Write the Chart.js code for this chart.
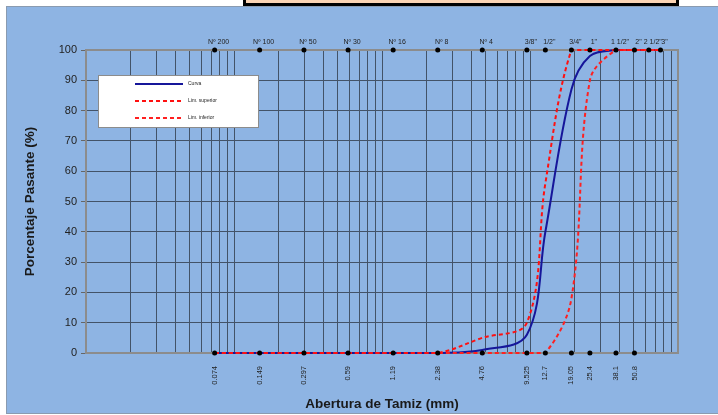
<!DOCTYPE html>
<html>
<head>
<meta charset="utf-8">
<script src="https://cdn.jsdelivr.net/npm/chart.js@4.4.1/dist/chart.umd.min.js"></script>
<style>
  html, body { margin: 0; padding: 0; background: #fff; }
  body { width: 718px; height: 415px; position: relative; overflow: hidden; }
  #frame { position: absolute; left: 6px; top: 6px; width: 711px; height: 406px; background: #8eb4e3; border: 1px solid #8a9bb0; }
  #titleBox { position: absolute; left: 243px; top: -20px; width: 430px; height: 20px; background: #fbd4b4; border: 3px solid #000; }
  canvas { position: absolute; left: 0; top: 0; }
</style>
</head>
<body>
<div id="frame"></div>
<div id="titleBox"></div>
<canvas id="granChart" width="718" height="415"></canvas>
<script>
// tamices (abertura en mm) y sus nombres
const sieveMm = [0.074, 0.149, 0.297, 0.59, 1.19, 2.38, 4.76, 9.525, 12.7, 19.05, 25.4, 38.1, 50.8, 63.5, 76.2];
const sieveNames = ["Nº 200", "Nº 100", "Nº 50", "Nº 30", "Nº 16", "Nº 8", "Nº 4", '3/8"', '1/2"', '3/4"', '1"', '1 1/2"', '2"', '2 1/2"', '3"'];
const mmLabels = ["0.074", "0.149", "0.297", "0.59", "1.19", "2.38", "4.76", "9.525", "12.7", "19.05", "25.4", "38.1", "50.8"];

// % pasante
const curva = [0, 0, 0, 0, 0, 0, 1, 6, 40, 87, 98, 100, 100, 100, 100];
const limSuperior = [0, 0, 0, 0, 0, 0, 5, 10, 56, 100, 100, 100, 100, 100, 100];
const limInferior = [0, 0, 0, 0, 0, 0, 0, 0, 0, 18, 90, 100, 100, 100, 100];

const yTicks = [0, 10, 20, 30, 40, 50, 60, 70, 80, 90, 100];

const FONT = "'Liberation Sans', Arial, sans-serif";
const GRID = "#435368";

function toPoints(values) {
  return values.map((v, i) => ({ x: sieveMm[i], y: v }));
}

// lineas de grilla logaritmica: 1..9 x 10^k
const gridValues = [];
for (let e = -2; e <= 1; e++) {
  for (let m = 1; m <= 9; m++) gridValues.push(+(m * Math.pow(10, e)).toPrecision(3));
}
gridValues.push(100);

const plotFrame = {
  id: "plotFrame",
  beforeDatasetsDraw(chart) {
    const { ctx, chartArea: a } = chart;
    ctx.save();
    ctx.strokeStyle = "#8c8c8c";
    ctx.lineWidth = 2;
    ctx.strokeRect(a.left, a.top, a.right - a.left, a.bottom - a.top);
    ctx.restore();
  },
  afterDraw(chart) {
    // leyenda dentro del area de trazado
    const ctx = chart.ctx;
    const box = { x: 98, y: 75, w: 160, h: 52 };
    ctx.save();
    ctx.fillStyle = "#fff";
    ctx.fillRect(box.x, box.y, box.w, box.h);
    ctx.strokeStyle = "#8c8c8c";
    ctx.lineWidth = 1;
    ctx.strokeRect(box.x + 0.5, box.y + 0.5, box.w, box.h);
    const items = chart.data.datasets.filter(d => d.inLegend);
    items.forEach((d, i) => {
      const y = 84 + i * 17;
      ctx.strokeStyle = d.borderColor;
      ctx.lineWidth = 2;
      ctx.setLineDash(d.borderDash || []);
      ctx.beginPath();
      ctx.moveTo(135, y);
      ctx.lineTo(183, y);
      ctx.stroke();
      ctx.setLineDash([]);
      ctx.fillStyle = "#222";
      ctx.font = "5px " + FONT;
      ctx.textBaseline = "middle";
      ctx.fillText(d.label, 188, y);
    });
    ctx.restore();
  }
};

const ctx = document.getElementById("granChart");

new Chart(ctx, {
  type: "line",
  data: {
    datasets: [
      {
        label: "marcas sup",
        data: sieveMm.map(v => ({ x: v, y: 100 })),
        showLine: false,
        pointRadius: 2.5,
        pointBackgroundColor: "#000",
        pointBorderWidth: 0,
        clip: false,
        order: 0,
      },
      {
        label: "marcas inf",
        data: sieveMm.slice(0, mmLabels.length).map(v => ({ x: v, y: 0 })),
        showLine: false,
        pointRadius: 2.5,
        pointBackgroundColor: "#000",
        pointBorderWidth: 0,
        clip: false,
        order: 0,
      },
      {
        label: "Curva",
        inLegend: true,
        data: toPoints(curva),
        borderColor: "#16169a",
        borderWidth: 2,
        pointRadius: 0,
        tension: 0.35,
        clip: false,
        order: 3,
      },
      {
        label: "Lim. superior",
        inLegend: true,
        data: toPoints(limSuperior),
        borderColor: "#ff1010",
        borderWidth: 2,
        borderDash: [4, 3],
        pointRadius: 0,
        tension: 0.35,
        clip: false,
        order: 1,
      },
      {
        label: "Lim. inferior",
        inLegend: true,
        data: toPoints(limInferior),
        borderColor: "#ff2020",
        borderWidth: 2,
        borderDash: [4, 3],
        pointRadius: 0,
        tension: 0.35,
        clip: false,
        order: 2,
      },
    ],
  },
  options: {
    responsive: false,
    animation: false,
    layout: { padding: { left: 0, right: 40, top: 0, bottom: 0 } },
    plugins: {
      legend: { display: false },
      tooltip: { enabled: false },
    },
    scales: {
      x: {
        type: "logarithmic",
        position: "bottom",
        min: 0.01,
        max: 100,
        afterBuildTicks: scale => {
          scale.ticks = gridValues.map(v => ({ value: v }));
        },
        afterFit: scale => { scale.height = 0; },
        ticks: { display: false },
        grid: { color: GRID, lineWidth: 1, drawTicks: false },
        border: { display: false },
      },
      xb: {
        type: "logarithmic",
        position: "bottom",
        min: 0.01,
        max: 100,
        afterBuildTicks: scale => {
          scale.ticks = sieveMm.slice(0, mmLabels.length).map(v => ({ value: v }));
        },
        afterFit: scale => { scale.height = 62; },
        ticks: {
          autoSkip: false,
          minRotation: 90,
          maxRotation: 90,
          padding: 13,
          color: "#222",
          font: { family: FONT, size: 7.5 },
          callback: (value, index) => mmLabels[index],
        },
        grid: { display: false, drawTicks: false },
        border: { display: false },
        title: {
          display: true,
          text: "Abertura de Tamiz (mm)",
          color: "#1a1a1a",
          font: { family: FONT, size: 13.5, weight: "bold" },
          padding: { top: 0, bottom: 3 },
        },
      },
      xt: {
        type: "logarithmic",
        position: "top",
        min: 0.01,
        max: 100,
        afterBuildTicks: scale => {
          scale.ticks = sieveMm.map(v => ({ value: v }));
        },
        afterFit: scale => { scale.height = 50; },
        ticks: {
          autoSkip: false,
          maxRotation: 0,
          padding: 4,
          labelOffset: 4,
          color: "#222",
          font: { family: FONT, size: 7 },
          callback: (value, index) => sieveNames[index],
        },
        grid: { display: false, drawTicks: false },
        border: { display: false },
      },
      y: {
        min: 0,
        max: 100,
        afterBuildTicks: scale => {
          scale.ticks = yTicks.map(v => ({ value: v }));
        },
        afterFit: scale => { scale.width = 86; },
        ticks: {
          padding: 4,
          color: "#222",
          font: { family: FONT, size: 11 },
        },
        grid: { color: GRID, lineWidth: 1, tickLength: 5, tickColor: "#666" },
        border: { display: false },
        title: {
          display: true,
          text: "Porcentaje Pasante (%)",
          color: "#1a1a1a",
          font: { family: FONT, size: 13.5, weight: "bold" },
          padding: { top: 22, bottom: 0 },
        },
      },
    },
  },
  plugins: [plotFrame],
});
</script>
</body>
</html>
